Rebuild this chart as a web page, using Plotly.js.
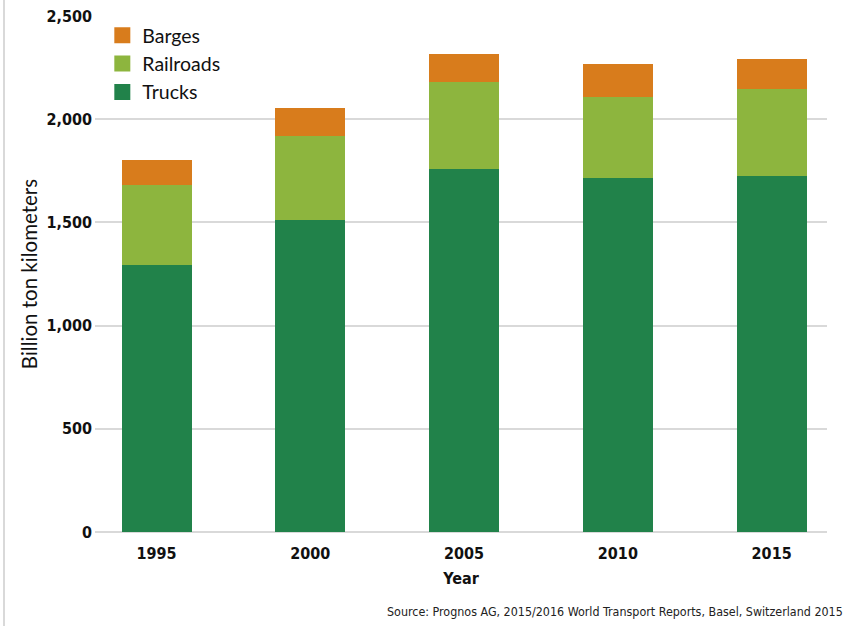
<!DOCTYPE html>
<html>
<head>
<meta charset="utf-8">
<script src="https://cdn.plot.ly/plotly-3.0.1.min.js"></script>
<style>
html,body{margin:0;padding:0;background:#fff;}
#wrap{position:relative;width:849px;height:626px;}
#chart{width:849px;height:626px;}
#edge{position:absolute;left:3px;top:0;width:2px;height:626px;background:#d9d9d9;}
</style>
</head>
<body>
<div id="wrap"><div id="chart"></div><div id="edge"></div></div>
<script>
const years = ['1995','2000','2005','2010','2015'];
const trucks = [1294, 1512, 1759, 1715, 1725];
const railroads = [387, 408, 421, 393, 421];
const barges = [119, 132, 134, 159, 146];
const seriesNames = ['Trucks', 'Railroads', 'Barges'];
const seriesColors = ['#21824A', '#8DB53E', '#D87C1C'];

const tickFont = {family: 'DejaVu Sans Condensed, sans-serif', size: 16, color: '#111', weight: 'bold'};

const values = [trucks, railroads, barges];
const traces = values.map((v, i) => ({
  name: seriesNames[i], x: years, y: v, type: 'bar', marker: {color: seriesColors[i]},
  width: 0.455, showlegend: false
}));
// legend entries with larger square swatches (no drawn marks)
seriesNames.forEach((n, i) => {
  traces.push({name: n, x: [years[0]], y: [null], type: 'scatter', mode: 'markers',
    marker: {symbol: 'square', size: 16, color: seriesColors[i]}, showlegend: true, hoverinfo: 'skip'});
});

const layout = {
  width: 849, height: 626,
  margin: {l: 95, r: 22, t: 16, b: 94},
  barmode: 'stack',
  paper_bgcolor: '#fff', plot_bgcolor: '#fff',
  showlegend: true,
  legend: {x: 0.01, y: 1.0, xanchor: 'left', yanchor: 'top', traceorder: 'reversed',
    font: {family: 'Lato, sans-serif', size: 19.5, color: '#111'}, itemwidth: 30, tracegroupgap: 0,
    bgcolor: 'rgba(0,0,0,0)'},
  xaxis: {type: 'category', range: [-0.4, 4.36], showgrid: false, zeroline: false, showline: false,
    tickfont: tickFont, ticks: '', ticklabelstandoff: 10,
    title: {text: 'Year', font: {family: 'DejaVu Sans Condensed, sans-serif', size: 16, color: '#111', weight: 'bold'}, standoff: 10}},
  yaxis: {range: [0, 2500], tickvals: [0, 500, 1000, 1500, 2000, 2500],
    ticktext: ['0', '500', '1,000', '1,500', '2,000', '2,500'],
    showgrid: true, gridcolor: '#d9d9d9', gridwidth: 2, zeroline: true, zerolinecolor: '#d9d9d9', zerolinewidth: 2,
    showline: false, ticks: '', tickfont: tickFont, ticklabelstandoff: 2,
    title: {text: 'Billion ton kilometers', font: {family: 'Lato, sans-serif', size: 20.5, color: '#111'}, standoff: 3}},
  annotations: [{
    text: 'Source: Prognos AG, 2015/2016 World Transport Reports, Basel, Switzerland 2015',
    xref: 'paper', yref: 'paper', x: 1.025, y: -0.135, xanchor: 'right', yanchor: 'top', showarrow: false,
    font: {family: 'DejaVu Sans Condensed, sans-serif', size: 12.4, color: '#222'}
  }]
};

Plotly.newPlot('chart', traces, layout, {displayModeBar: false, staticPlot: true});
</script>
</body>
</html>
